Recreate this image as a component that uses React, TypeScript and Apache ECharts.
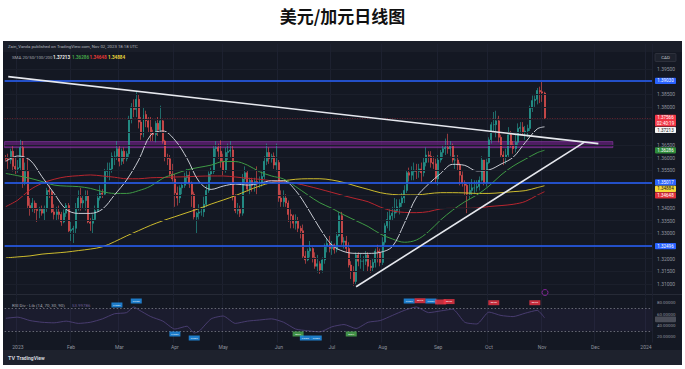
import React, { useEffect, useRef } from "react";
import * as echarts from "echarts";

const TITLE = "美元/加元日线图";
const HEADER_TEXT = "Zain_Vanda published on TradingView.com, Nov 02, 2023 18:18 UTC";
const SMA_LABEL = "SMA 20/50/100/200";
const RSI_LABEL = "RSI Div - Lib (14, 70, 30, 90)";
const COUNTDOWN = "02:40:19";

// candles: [open, close, low, high]
const dec2022 = [
  [1.3600, 1.3595, 1.3585, 1.3610], [1.3595, 1.3590, 1.3555, 1.3615], [1.3590, 1.3625, 1.3575, 1.3635],
  [1.3625, 1.3565, 1.3545, 1.3645], [1.3565, 1.3555, 1.3535, 1.3600],
];
const jan2023 = [
  [1.3555, 1.3560, 1.3540, 1.3590], [1.3560, 1.3640, 1.3550, 1.3670], [1.3640, 1.3505, 1.3480, 1.3665],
  [1.3505, 1.3545, 1.3490, 1.3580], [1.3545, 1.3410, 1.3400, 1.3600], [1.3410, 1.3400, 1.3370, 1.3440],
  [1.3400, 1.3420, 1.3385, 1.3440], [1.3420, 1.3395, 1.3380, 1.3430], [1.3395, 1.3390, 1.3345, 1.3420],
  [1.3390, 1.3395, 1.3360, 1.3405], [1.3395, 1.3380, 1.3370, 1.3410], [1.3380, 1.3400, 1.3350, 1.3410],
  [1.3400, 1.3470, 1.3385, 1.3480], [1.3470, 1.3465, 1.3440, 1.3490], [1.3465, 1.3385, 1.3380, 1.3470],
  [1.3385, 1.3375, 1.3355, 1.3415], [1.3375, 1.3385, 1.3350, 1.3405], [1.3385, 1.3375, 1.3355, 1.3410],
  [1.3375, 1.3345, 1.3330, 1.3385], [1.3345, 1.3380, 1.3340, 1.3395], [1.3380, 1.3410, 1.3365, 1.3420],
  [1.3410, 1.3310, 1.3305, 1.3420],
];
const feb2023 = [
  [1.3310, 1.3315, 1.3270, 1.3345], [1.3315, 1.3320, 1.3262, 1.3330], [1.3320, 1.3400, 1.3300, 1.3420],
  [1.3400, 1.3440, 1.3390, 1.3470], [1.3440, 1.3420, 1.3390, 1.3480], [1.3420, 1.3430, 1.3400, 1.3450],
  [1.3430, 1.3450, 1.3390, 1.3470], [1.3450, 1.3345, 1.3340, 1.3470], [1.3345, 1.3340, 1.3310, 1.3360],
  [1.3340, 1.3355, 1.3300, 1.3375], [1.3355, 1.3390, 1.3350, 1.3410], [1.3390, 1.3440, 1.3385, 1.3455],
  [1.3440, 1.3460, 1.3430, 1.3490], [1.3460, 1.3455, 1.3440, 1.3475], [1.3455, 1.3545, 1.3450, 1.3555],
  [1.3545, 1.3550, 1.3520, 1.3580], [1.3550, 1.3555, 1.3510, 1.3580], [1.3555, 1.3605, 1.3540, 1.3620],
  [1.3605, 1.3605, 1.3570, 1.3625], [1.3605, 1.3635, 1.3590, 1.3665],
];
const mar2023 = [
  [1.3635, 1.3585, 1.3565, 1.3645], [1.3585, 1.3625, 1.3570, 1.3635], [1.3625, 1.3595, 1.3575, 1.3640],
  [1.3595, 1.3615, 1.3585, 1.3625], [1.3615, 1.3750, 1.3600, 1.3765], [1.3750, 1.3800, 1.3735, 1.3815],
  [1.3800, 1.3790, 1.3760, 1.3830], [1.3790, 1.3830, 1.3760, 1.3862], [1.3830, 1.3740, 1.3715, 1.3850],
  [1.3740, 1.3690, 1.3670, 1.3760], [1.3690, 1.3770, 1.3680, 1.3800], [1.3770, 1.3745, 1.3720, 1.3785],
  [1.3745, 1.3720, 1.3700, 1.3760], [1.3720, 1.3695, 1.3665, 1.3760], [1.3695, 1.3690, 1.3665, 1.3710],
  [1.3690, 1.3735, 1.3660, 1.3745], [1.3735, 1.3710, 1.3685, 1.3760], [1.3710, 1.3745, 1.3700, 1.3805],
  [1.3745, 1.3665, 1.3655, 1.3750], [1.3665, 1.3600, 1.3585, 1.3670], [1.3600, 1.3595, 1.3570, 1.3615],
  [1.3595, 1.3535, 1.3525, 1.3610], [1.3535, 1.3515, 1.3505, 1.3575],
];
const apr2023 = [
  [1.3515, 1.3460, 1.3405, 1.3535], [1.3460, 1.3440, 1.3410, 1.3485], [1.3440, 1.3480, 1.3420, 1.3490],
  [1.3480, 1.3490, 1.3455, 1.3500], [1.3490, 1.3520, 1.3480, 1.3540], [1.3520, 1.3530, 1.3495, 1.3555],
  [1.3530, 1.3495, 1.3480, 1.3545], [1.3495, 1.3455, 1.3405, 1.3505], [1.3455, 1.3365, 1.3355, 1.3465],
  [1.3365, 1.3380, 1.3300, 1.3385], [1.3380, 1.3385, 1.3355, 1.3415], [1.3385, 1.3385, 1.3370, 1.3405],
  [1.3385, 1.3415, 1.3365, 1.3445], [1.3415, 1.3470, 1.3405, 1.3490], [1.3470, 1.3535, 1.3460, 1.3545],
  [1.3535, 1.3545, 1.3510, 1.3560], [1.3545, 1.3635, 1.3535, 1.3645], [1.3635, 1.3640, 1.3600, 1.3665],
  [1.3640, 1.3625, 1.3595, 1.3655], [1.3625, 1.3585, 1.3560, 1.3668],
];
const may2023 = [
  [1.3585, 1.3550, 1.3530, 1.3615], [1.3550, 1.3620, 1.3540, 1.3640], [1.3620, 1.3625, 1.3590, 1.3655],
  [1.3625, 1.3630, 1.3600, 1.3665], [1.3630, 1.3445, 1.3430, 1.3650], [1.3445, 1.3390, 1.3380, 1.3455],
  [1.3390, 1.3395, 1.3375, 1.3420], [1.3395, 1.3380, 1.3365, 1.3410], [1.3380, 1.3515, 1.3370, 1.3535],
  [1.3515, 1.3540, 1.3495, 1.3565], [1.3540, 1.3475, 1.3465, 1.3550], [1.3475, 1.3510, 1.3455, 1.3520],
  [1.3510, 1.3490, 1.3465, 1.3520], [1.3490, 1.3505, 1.3465, 1.3520], [1.3505, 1.3500, 1.3455, 1.3565],
  [1.3500, 1.3500, 1.3480, 1.3525], [1.3500, 1.3525, 1.3485, 1.3545], [1.3525, 1.3585, 1.3515, 1.3605],
  [1.3585, 1.3620, 1.3570, 1.3655], [1.3620, 1.3595, 1.3575, 1.3640], [1.3595, 1.3605, 1.3580, 1.3615],
  [1.3605, 1.3570, 1.3555, 1.3620], [1.3570, 1.3580, 1.3545, 1.3655],
];
const jun2023 = [
  [1.3580, 1.3440, 1.3425, 1.3590], [1.3440, 1.3425, 1.3405, 1.3470], [1.3425, 1.3440, 1.3405, 1.3470],
  [1.3440, 1.3420, 1.3405, 1.3455], [1.3420, 1.3375, 1.3345, 1.3430], [1.3375, 1.3370, 1.3320, 1.3395],
  [1.3370, 1.3340, 1.3320, 1.3375], [1.3340, 1.3350, 1.3315, 1.3375], [1.3350, 1.3320, 1.3305, 1.3365],
  [1.3320, 1.3310, 1.3280, 1.3330], [1.3310, 1.3210, 1.3200, 1.3335], [1.3210, 1.3195, 1.3180, 1.3230],
  [1.3195, 1.3230, 1.3190, 1.3240], [1.3230, 1.3240, 1.3205, 1.3270], [1.3240, 1.3205, 1.3185, 1.3245],
  [1.3205, 1.3170, 1.3160, 1.3225], [1.3170, 1.3180, 1.3145, 1.3215], [1.3180, 1.3155, 1.3140, 1.3190],
  [1.3155, 1.3195, 1.3145, 1.3205], [1.3195, 1.3250, 1.3180, 1.3260], [1.3250, 1.3260, 1.3225, 1.3280],
  [1.3260, 1.3240, 1.3225, 1.3290],
];
const jul2023 = [
  [1.3240, 1.3255, 1.3215, 1.3270], [1.3255, 1.3235, 1.3220, 1.3260], [1.3235, 1.3290, 1.3225, 1.3305],
  [1.3290, 1.3370, 1.3285, 1.3385], [1.3370, 1.3265, 1.3255, 1.3385], [1.3265, 1.3270, 1.3240, 1.3285],
  [1.3270, 1.3240, 1.3225, 1.3290], [1.3240, 1.3175, 1.3165, 1.3265], [1.3175, 1.3150, 1.3120, 1.3190],
  [1.3150, 1.3110, 1.3093, 1.3170], [1.3110, 1.3215, 1.3100, 1.3225], [1.3215, 1.3190, 1.3170, 1.3225],
  [1.3190, 1.3190, 1.3160, 1.3220], [1.3190, 1.3190, 1.3150, 1.3210], [1.3190, 1.3215, 1.3175, 1.3230],
  [1.3215, 1.3170, 1.3150, 1.3225], [1.3170, 1.3165, 1.3145, 1.3195], [1.3165, 1.3185, 1.3150, 1.3200],
  [1.3185, 1.3230, 1.3165, 1.3240], [1.3230, 1.3225, 1.3185, 1.3255], [1.3225, 1.3185, 1.3170, 1.3240],
];
const aug2023 = [
  [1.3185, 1.3265, 1.3175, 1.3285], [1.3265, 1.3330, 1.3255, 1.3340], [1.3330, 1.3355, 1.3320, 1.3385],
  [1.3355, 1.3370, 1.3310, 1.3395], [1.3370, 1.3380, 1.3350, 1.3405], [1.3380, 1.3390, 1.3360, 1.3440],
  [1.3390, 1.3405, 1.3380, 1.3435], [1.3405, 1.3420, 1.3375, 1.3435], [1.3420, 1.3440, 1.3405, 1.3460],
  [1.3440, 1.3470, 1.3420, 1.3490], [1.3470, 1.3540, 1.3460, 1.3550], [1.3540, 1.3530, 1.3505, 1.3560],
  [1.3530, 1.3545, 1.3510, 1.3565], [1.3545, 1.3550, 1.3510, 1.3580], [1.3550, 1.3545, 1.3515, 1.3575],
  [1.3545, 1.3555, 1.3520, 1.3575], [1.3555, 1.3540, 1.3505, 1.3580], [1.3540, 1.3580, 1.3525, 1.3600],
  [1.3580, 1.3610, 1.3565, 1.3640], [1.3610, 1.3605, 1.3580, 1.3625], [1.3605, 1.3580, 1.3560, 1.3625],
  [1.3580, 1.3575, 1.3555, 1.3605], [1.3575, 1.3515, 1.3500, 1.3595],
];
const sep2023 = [
  [1.3515, 1.3590, 1.3490, 1.3610], [1.3590, 1.3620, 1.3580, 1.3630], [1.3620, 1.3635, 1.3595, 1.3650],
  [1.3635, 1.3640, 1.3610, 1.3675], [1.3640, 1.3635, 1.3615, 1.3694], [1.3635, 1.3645, 1.3605, 1.3665],
  [1.3645, 1.3590, 1.3580, 1.3655], [1.3590, 1.3590, 1.3555, 1.3610], [1.3590, 1.3570, 1.3550, 1.3610],
  [1.3570, 1.3530, 1.3490, 1.3580], [1.3530, 1.3500, 1.3485, 1.3545], [1.3500, 1.3490, 1.3450, 1.3510],
  [1.3490, 1.3455, 1.3380, 1.3500], [1.3455, 1.3470, 1.3435, 1.3500], [1.3470, 1.3480, 1.3450, 1.3515],
  [1.3480, 1.3480, 1.3455, 1.3510], [1.3480, 1.3485, 1.3465, 1.3510], [1.3485, 1.3510, 1.3470, 1.3525],
  [1.3510, 1.3590, 1.3505, 1.3605], [1.3590, 1.3500, 1.3490, 1.3590], [1.3500, 1.3580, 1.3485, 1.3595],
];
const oct2023 = [
  [1.3580, 1.3670, 1.3575, 1.3680], [1.3670, 1.3730, 1.3655, 1.3740], [1.3730, 1.3730, 1.3705, 1.3780],
  [1.3730, 1.3745, 1.3680, 1.3785], [1.3745, 1.3680, 1.3660, 1.3765], [1.3680, 1.3610, 1.3600, 1.3690],
  [1.3610, 1.3600, 1.3570, 1.3625], [1.3600, 1.3610, 1.3575, 1.3635], [1.3610, 1.3690, 1.3600, 1.3720],
  [1.3690, 1.3650, 1.3640, 1.3705], [1.3650, 1.3635, 1.3615, 1.3665], [1.3635, 1.3660, 1.3620, 1.3690],
  [1.3660, 1.3715, 1.3645, 1.3735], [1.3715, 1.3720, 1.3695, 1.3740], [1.3720, 1.3700, 1.3690, 1.3740],
  [1.3700, 1.3705, 1.3670, 1.3725], [1.3705, 1.3715, 1.3680, 1.3730], [1.3715, 1.3795, 1.3705, 1.3805],
  [1.3795, 1.3825, 1.3780, 1.3845], [1.3825, 1.3830, 1.3800, 1.3845], [1.3830, 1.3865, 1.3810, 1.3875],
  [1.3865, 1.3860, 1.3815, 1.3880],
];
const nov2023 = [
  [1.3860, 1.3855, 1.3820, 1.3899], [1.3855, 1.37566, 1.3750, 1.3860],
];

// moving averages (bar index, value)
const smaIdx = [0, 5, 10, 15, 20, 25, 30, 35, 40, 45, 50, 55, 60, 65, 70, 75, 80, 85, 90, 95, 100, 105, 110, 115, 120,
  125, 130, 135, 140, 145, 150, 155, 160, 165, 170, 175, 180, 185, 190, 195, 200, 205, 210, 215, 220, 223];
const sma20 = [1.3585, 1.3606, 1.3590, 1.3524, 1.3458, 1.3395, 1.3379, 1.3379, 1.3396, 1.3452, 1.3511, 1.3590, 1.3689,
  1.3705, 1.3669, 1.3597, 1.3505, 1.3474, 1.3487, 1.3495, 1.3491, 1.3498, 1.3508, 1.3508, 1.3469, 1.3399, 1.3320,
  1.3254, 1.3228, 1.3221, 1.3221, 1.3225, 1.3248, 1.3340, 1.3443, 1.3495, 1.3537, 1.3573, 1.3569, 1.3547, 1.3551,
  1.3574, 1.3601, 1.3659, 1.3713, 1.37213];
const sma50 = [1.3537, 1.3528, 1.3518, 1.3505, 1.3491, 1.3487, 1.3485, 1.3478, 1.3465, 1.3458, 1.3458, 1.3469, 1.3487,
  1.3518, 1.3535, 1.3551, 1.3561, 1.3570, 1.3584, 1.3584, 1.3570, 1.3544, 1.3527, 1.3515, 1.3485, 1.3452, 1.3421,
  1.3399, 1.3373, 1.3350, 1.3327, 1.3298, 1.3278, 1.3265, 1.3274, 1.3307, 1.3353, 1.3392, 1.3425, 1.3452, 1.3487,
  1.3531, 1.3566, 1.3593, 1.3619, 1.36286];
const sma100 = [1.3406, 1.3432, 1.3472, 1.3498, 1.3514, 1.3524, 1.3528, 1.3531, 1.3527, 1.3522, 1.3516, 1.3516, 1.3520,
  1.3521, 1.3523, 1.3524, 1.3526, 1.3527, 1.3527, 1.3523, 1.3518, 1.3514, 1.3508, 1.3503, 1.3498, 1.3487, 1.3475,
  1.3462, 1.3449, 1.3437, 1.3425, 1.3404, 1.3389, 1.3383, 1.3382, 1.3386, 1.3397, 1.3399, 1.3399, 1.3400, 1.3406,
  1.3410, 1.3415, 1.3426, 1.3451, 1.34648];
const sma200 = [1.3203, 1.3207, 1.3211, 1.3218, 1.3222, 1.3226, 1.3232, 1.3238, 1.3247, 1.3267, 1.3290, 1.3311, 1.3332,
  1.3350, 1.3366, 1.3382, 1.3398, 1.3416, 1.3432, 1.3449, 1.3469, 1.3487, 1.3501, 1.3508, 1.3514, 1.3516, 1.3516,
  1.3511, 1.3501, 1.3487, 1.3474, 1.3461, 1.3454, 1.3452, 1.3452, 1.3457, 1.3461, 1.3461, 1.3460, 1.3458, 1.3458,
  1.3461, 1.3465, 1.3469, 1.3481, 1.34884];

// RSI (bar index, value)
const rsiIdx = [0, 5, 10, 15, 20, 25, 30, 35, 40, 45, 50, 53, 55, 60, 65, 70, 75, 78, 80, 85, 90, 95, 100, 105, 110,
  115, 120, 125, 130, 135, 140, 145, 150, 155, 160, 165, 170, 175, 180, 185, 190, 195, 200, 205, 210, 215, 220, 223];
const rsiVals = [53, 55, 49, 46, 45, 48, 44, 46, 52, 61, 63, 73, 68, 56, 48, 34, 39, 27, 30, 52, 57, 44, 48, 50, 52,
  46, 34, 31, 29, 38, 42, 35, 46, 49, 58, 67, 73, 63, 66, 69, 46, 43, 64, 58, 56, 62, 67, 53.99786];

// RSI pane signals: [bar index, rsi level, text, kind]
const rsiSignals: [number, number, string, string][] = [
  [46, 76.5, "PIVOT", "pivot"], [54, 83.5, "PIVOT", "pivot"], [70, 25.3, "PIVOT", "pivot"], [78, 18.2, "PIVOT", "pivot"],
  [121, 25.3, "BULL", "bull"], [124, 18.2, "PIVOT", "pivot"], [128.5, 18.2, "PIVOT", "pivot"], [143, 25.3, "BULL", "bull"],
  [167, 83.5, "PIVOT", "pivot"], [171.5, 84, "BEAR", "bear"], [176, 83.5, "PIVOT", "pivot"], [180, 81.8, "", "bear"],
  [183.5, 82.5, "BEAR", "bear"], [202, 80.5, "BEAR", "bear"], [219, 80.5, "BEAR", "bear"],
];

// drawn objects (bar index, price)
const levelLines = [1.3903, 1.35017, 1.32496];
const trendDown = [[1.0, 1.392], [245.3, 1.3655]];
const trendUp = [[145.0, 1.3089], [239.4, 1.366]];
const zoneLow = 1.3639;
const zoneHigh = 1.3663;
const zoneEnd = 251.3;

const priceTicks = ["1.31000", "1.31500", "1.32000", "1.33000", "1.33500", "1.34000", "1.35500", "1.36000", "1.36500",
  "1.38000", "1.38500", "1.39500"];
const rsiTicks = [20, 40, 60, 80];
const monthLabels = ["2023", "Feb", "Mar", "Apr", "May", "Jun", "Jul", "Aug", "Sep", "Oct", "Nov", "Dec", "2024"];

const candles = [...dec2022, ...jan2023, ...feb2023, ...mar2023, ...apr2023, ...may2023, ...jun2023, ...jul2023,
  ...aug2023, ...sep2023, ...oct2023, ...nov2023];

const N_SLOTS = 268;
function buildDates() {
  const out: string[] = [];
  const d = new Date(Date.UTC(2022, 11, 26));
  while (out.length < N_SLOTS) {
    const wd = d.getUTCDay();
    if (wd !== 0 && wd !== 6) out.push(d.toISOString().slice(0, 10));
    d.setUTCDate(d.getUTCDate() + 1);
  }
  return out;
}
const dates = buildDates();
const monthStarts: number[] = [];
for (let i = 1; i < dates.length; i++) if (dates[i].slice(5, 7) !== dates[i - 1].slice(5, 7)) monthStarts.push(i);
const monthStartSet = new Set(monthStarts);
const monthLabelAt = new Map<number, string>();
monthStarts.forEach((i, k) => monthLabelAt.set(i, monthLabels[k] ?? ""));

const FONT = "Roboto";
const GRID_L = 4.6;
const GRID_W = 647.4;
const UP = "#26a69a";
const DOWN = "#ef5350";
const C_SMA20 = "#c9ccd4";
const C_SMA50 = "#3f9a45";
const C_SMA100 = "#b8262f";
const C_SMA200 = "#cdbb2e";
const BLUE = "#2962ff";

const pairs = (xs: number[], ys: number[]) => xs.map((x, k) => [x, ys[k]]);
const last = (a: number[]) => a[a.length - 1];

function buildOption(): any {
  const lastClose = candles[candles.length - 1][1];
  const gridLineData = priceTicks.concat(["1.32500", "1.34500", "1.35000", "1.37000", "1.37500", "1.39000"]).map((s) => ({
    yAxis: Number(s),
  }));
  return {
    animation: false,
    backgroundColor: "#ffffff",
    textStyle: { fontFamily: FONT },
    title: {
      text: TITLE,
      left: "center",
      top: 7,
      padding: 0,
      textStyle: { fontSize: 17, fontWeight: "bold", color: "#111", fontFamily: "Noto Sans CJK SC" },
    },
    grid: [
      { left: GRID_L, width: GRID_W, top: 43.71, height: 252.9 },
      { left: GRID_L, width: GRID_W, top: 297.33, height: 45.33 },
    ],
    xAxis: [
      {
        type: "category", gridIndex: 0, data: dates, boundaryGap: true,
        axisLine: { show: false }, axisTick: { show: false }, axisLabel: { show: false },
        splitLine: { show: true, interval: (i: number) => monthStartSet.has(i), lineStyle: { color: "#1d2130", width: 1 } },
      },
      {
        type: "category", gridIndex: 1, data: dates, boundaryGap: true,
        axisLine: { show: false }, axisTick: { show: false },
        axisLabel: {
          show: true, interval: (i: number) => monthStartSet.has(i),
          formatter: (_v: string, i: number) => monthLabelAt.get(i) ?? "",
          fontSize: 5, color: "#8f939d", margin: 2, fontFamily: FONT,
        },
        splitLine: { show: true, interval: (i: number) => monthStartSet.has(i), lineStyle: { color: "#1d2130", width: 1 } },
      },
      { type: "value", gridIndex: 0, min: -0.5, max: N_SLOTS - 0.5, show: false },
      { type: "value", gridIndex: 1, min: -0.5, max: N_SLOTS - 0.5, show: false },
    ],
    yAxis: [
      {
        type: "value", gridIndex: 0, position: "right", min: 1.305, max: 1.405, interval: 0.005,
        axisLine: { show: false }, axisTick: { show: false }, splitLine: { show: false },
        axisLabel: {
          fontSize: 5, color: "#8f939d", margin: 5, fontFamily: FONT,
          formatter: (v: number) => (priceTicks.includes(v.toFixed(5)) ? v.toFixed(5) : ""),
        },
      },
      {
        type: "value", gridIndex: 1, position: "right", min: 10, max: 90, interval: 10,
        axisLine: { show: false }, axisTick: { show: false }, splitLine: { show: false },
        axisLabel: {
          fontSize: 4.4, color: "#8f939d", margin: 5, fontFamily: FONT,
          formatter: (v: number) => (rsiTicks.includes(Math.round(v)) ? v.toFixed(5) : ""),
        },
      },
    ],
    series: [
      {
        name: "zone", type: "line", xAxisIndex: 2, yAxisIndex: 0, z: 1, silent: true,
        data: [[-0.5, zoneLow]], symbol: "none", lineStyle: { opacity: 0 },
        markLine: {
          silent: true, symbol: ["none", "none"], label: { show: false }, precision: 5,
          lineStyle: { color: "#1b1f2b", width: 1, type: "solid" }, data: gridLineData,
        },
        markArea: {
          silent: true,
          itemStyle: { color: "rgba(126, 34, 150, 0.55)", borderColor: "#8e3aa8", borderWidth: 0.6 },
          data: [[{ xAxis: -0.5, yAxis: zoneLow }, { xAxis: zoneEnd, yAxis: zoneHigh }]],
        },
      },
      {
        name: "USDCAD", type: "candlestick", xAxisIndex: 0, yAxisIndex: 0, z: 3,
        data: candles, barWidth: "62%",
        itemStyle: { color: UP, color0: DOWN, borderColor: UP, borderColor0: DOWN, borderWidth: 0.6 },
        markLine: {
          silent: true, symbol: ["none", "none"], label: { show: false }, precision: 5,
          data: [
            ...levelLines.map((v) => ({ yAxis: v, lineStyle: { color: BLUE, width: 1.5, type: "solid" } })),
            { yAxis: lastClose, lineStyle: { color: "rgba(242,54,69,0.55)", width: 0.7, type: [1, 1.5] } },
          ],
        },
      },
      ...[
        [sma200, C_SMA200], [sma100, C_SMA100], [sma50, C_SMA50], [sma20, C_SMA20],
      ].map(([vals, color]) => ({
        type: "line", xAxisIndex: 2, yAxisIndex: 0, z: 4, silent: true,
        data: pairs(smaIdx, vals as number[]), showSymbol: false, symbol: "none", smooth: 0.35,
        lineStyle: { color: color as string, width: 1 },
      })),
      ...[trendDown, trendUp].map((d) => ({
        type: "line", xAxisIndex: 2, yAxisIndex: 0, z: 5, silent: true,
        data: d, showSymbol: false, symbol: "none", lineStyle: { color: "#e6e8ee", width: 1.6 },
      })),
      {
        name: "RSI", type: "line", xAxisIndex: 3, yAxisIndex: 1, z: 3, silent: true,
        data: pairs(rsiIdx, rsiVals), showSymbol: false, symbol: "none", smooth: 0.2,
        lineStyle: { color: "#4d3f76", width: 0.9 },
        markArea: { silent: true, itemStyle: { color: "rgba(126,87,194,0.07)" }, data: [[{ yAxis: 30 }, { yAxis: 70 }]] },
        markLine: {
          silent: true, symbol: ["none", "none"], label: { show: false }, precision: 5,
          lineStyle: { color: "#7c7f8a", width: 0.8, type: [1.5, 2] },
          data: [{ yAxis: 70 }, { yAxis: 30 }],
        },
      },
      {
        name: "signals", type: "scatter", xAxisIndex: 3, yAxisIndex: 1, z: 6, silent: true,
        symbol: "rect", symbolSize: [11, 5],
        data: rsiSignals.map(([i, v, t, k]) => ({
          value: [i, v], name: t,
          itemStyle: { color: k === "pivot" ? "#2196f3" : k === "bull" ? "#4caf50" : "#f23645" },
        })),
        label: { show: true, position: "inside", formatter: "{b}", fontSize: 2.5, color: "#ffffff", fontWeight: "bold" },
      },
    ],
  };
}

function txt(x: number, y: number, text: string, fill: string, fontSize: number, extra: any = {}) {
  return {
    type: "text", x, y, z: 50, silent: true,
    style: { text, fill, fontSize, fontFamily: FONT, textVerticalAlign: "middle", textAlign: "left", ...extra },
  };
}

function baseGraphics(): any[] {
  const legendVals = [
    [last(sma20), "#e8e8e8", 53],
    [last(sma50), "#43a047", 72],
    [last(sma100), "#e53935", 89.5],
    [last(sma200), "#e6d33a", 108],
  ];
  return [
    { type: "rect", z: -10, silent: true, shape: { x: 3, y: 41, width: 679, height: 324 }, style: { fill: "#141823" } },
    { type: "rect", z: -9, silent: true, shape: { x: 3, y: 41, width: 679, height: 11 }, style: { fill: "#1a1e29" } },
    { type: "rect", z: -9, silent: true, shape: { x: 3, y: 350, width: 679, height: 15 }, style: { fill: "#1e222d" } },
    { type: "line", z: -8, silent: true, shape: { x1: 3, y1: 294.5, x2: 682, y2: 294.5 }, style: { stroke: "#262a36", lineWidth: 1 } },
    txt(8, 46.5, HEADER_TEXT, "#b2b5be", 4.3),
    txt(12, 57.5, SMA_LABEL, "#a3a6af", 4.4),
    ...legendVals.map(([v, c, x]) => txt(x as number, 57.5, (v as number).toFixed(5), c as string, 4.6, { fontWeight: "bold" })),
    txt(12, 305, RSI_LABEL, "#a3a6af", 4.4),
    txt(72, 305, last(rsiVals).toFixed(5), "#6a5b93", 4.4),
    { type: "rect", z: 40, silent: true, shape: { x: 655, y: 53.5, width: 21, height: 8, r: 1 }, style: { fill: "#1e222d", stroke: "#3a3e4a", lineWidth: 0.6 } },
    txt(665.5, 57.5, "CAD", "#c0c3cb", 4.4, { textAlign: "center" }),
    txt(8, 358, "TV", "#d1d4dc", 5.5, { fontWeight: "bold" }),
    txt(16.5, 358, "TradingView", "#d1d4dc", 5, { fontWeight: "bold" }),
    { type: "circle", z: 40, silent: true, shape: { cx: 545, cy: 292.5, r: 3 }, style: { fill: "none", stroke: "#9c27b0", lineWidth: 0.8 } },
  ];
}

function tagGraphics(chart: any): any[] {
  const lastClose = candles[candles.length - 1][1];
  const defs = [
    ...levelLines.map((v) => ({ v, text: v.toFixed(5), bg: BLUE, fg: "#fff", lines: 1 })),
    { v: lastClose, text: lastClose.toFixed(5) + "\n" + COUNTDOWN, bg: "#f23645", fg: "#fff", lines: 2 },
    { v: last(sma20), text: last(sma20).toFixed(5), bg: "#f4f4f4", fg: "#131722", lines: 1 },
    { v: last(sma50), text: last(sma50).toFixed(5), bg: "#2e8b3a", fg: "#fff", lines: 1 },
    { v: last(sma200), text: last(sma200).toFixed(5), bg: "#f5d838", fg: "#131722", lines: 1 },
    { v: last(sma100), text: last(sma100).toFixed(5), bg: "#e0303b", fg: "#fff", lines: 1 },
  ].map((d) => ({ ...d, y: chart.convertToPixel({ yAxisIndex: 0 }, d.v) as number }));
  defs.sort((a, b) => a.y - b.y);
  const out: any[] = [];
  const H1 = 6.2;
  let prevBottom = -1e9;
  for (const d of defs) {
    const h = d.lines === 2 ? 11.8 : H1;
    const top = Math.max(d.y - H1 / 2, prevBottom + 0.3);
    prevBottom = top + h;
    out.push({ type: "rect", z: 60, silent: true, shape: { x: 655, y: top, width: 21, height: h, r: 0.8 }, style: { fill: d.bg } });
    out.push({
      type: "text", z: 61, silent: true, x: 665.5, y: top + h / 2,
      style: { text: d.text, fill: d.fg, fontSize: 4.5, fontFamily: FONT, textAlign: "center", textVerticalAlign: "middle", lineHeight: 5.6 },
    });
  }
  const rv = last(rsiVals);
  const ry = (chart.convertToPixel({ yAxisIndex: 1 }, rv) as number) + 1.6;
  out.push({ type: "rect", z: 60, silent: true, shape: { x: 655, y: ry - 2.8, width: 21, height: 5.6, r: 0.8 }, style: { fill: "#4a4d58" } });
  out.push(txt(665.5, ry, rv.toFixed(5), "#ffffff", 4.2, { textAlign: "center" }));
  return out;
}

export default function App() {
  const ref = useRef<HTMLDivElement>(null);
  useEffect(() => {
    if (!ref.current) return;
    const chart = echarts.init(ref.current, null, { renderer: "svg" });
    chart.setOption(buildOption());
    chart.setOption({ graphic: { elements: [...baseGraphics(), ...tagGraphics(chart)] } });
    return () => chart.dispose();
  }, []);
  return (
    <div
      ref={ref}
      style={{ position: "fixed", left: 0, top: 0, width: 685, height: 369, background: "#ffffff" }}
    />
  );
}
